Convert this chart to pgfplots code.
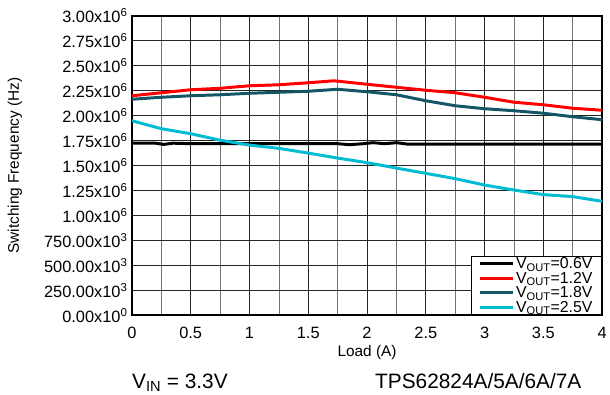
\documentclass[border=0pt]{standalone}
\usepackage{pgfplots}
\pgfplotsset{compat=1.18}
\usepackage{fontspec}
\setmainfont{Liberation Sans}
\definecolor{cRed}{RGB}{255,0,0}
\definecolor{cTeal}{RGB}{20,86,102}
\definecolor{cCyan}{RGB}{0,188,210}
\begin{document}
\begin{tikzpicture}
\begin{axis}[
  at={(0pt,0pt)}, anchor=south west,
  scale only axis, width=474pt, height=302pt,
  xmin=0, xmax=4, ymin=0, ymax=3,
  xtick={0,0.5,...,4}, minor x tick num=1,
  ytick={0,0.25,...,3},
  yticklabels={0.00x10\textsuperscript{0},250.00x10\textsuperscript{3},500.00x10\textsuperscript{3},750.00x10\textsuperscript{3},1.00x10\textsuperscript{6},1.25x10\textsuperscript{6},1.50x10\textsuperscript{6},1.75x10\textsuperscript{6},2.00x10\textsuperscript{6},2.25x10\textsuperscript{6},2.50x10\textsuperscript{6},2.75x10\textsuperscript{6},3.00x10\textsuperscript{6}},
  /pgf/number format/assume math mode=true,
  ticklabel style={font=\fontsize{16.5}{18}\selectfont},
  xticklabel style={yshift=-8pt},
  yticklabel style={xshift=-1pt},
  major tick length=0pt, minor tick length=0pt,
  grid=both,
  major grid style={black!85, line width=0.7pt},
  minor grid style={black!55, line width=0.7pt},
  axis line style={line width=2pt},
  xlabel={Load (A)},
  ylabel={Switching Frequency (Hz)},
  label style={font=\fontsize{15.5}{17}\selectfont},
  xlabel style={at={(axis description cs:0.5,-0.125)}, anchor=center},
  ylabel style={at={(axis description cs:-0.249,0.5)}, anchor=center},
  legend style={at={(axis description cs:1,0)}, anchor=south east, draw=black, line width=1.5pt,
    font=\fontsize{16}{16}\selectfont, row sep=0pt, inner xsep=7pt, inner ysep=0pt, fill=white,
    nodes={inner ysep=1pt}},
  legend cell align=left,
  legend image code/.code={\draw[#1, line width=3pt] (0pt,0pt) -- (33pt,0pt);},
]
\addplot[black, line width=3pt] coordinates {(0,1.725) (0.2,1.725) (0.27,1.713) (0.35,1.725) (0.5,1.72) (1,1.72) (1.5,1.72) (1.75,1.72) (1.85,1.71) (1.97,1.72) (2.05,1.73) (2.15,1.72) (2.25,1.73) (2.35,1.715) (2.5,1.715) (3,1.715) (4,1.715)};
\addlegendentry{V\textsubscript{OUT}=0.6V}
\addplot[cRed, line width=3pt] coordinates {(0,2.20) (0.25,2.23) (0.5,2.26) (0.75,2.275) (1.0,2.30) (1.25,2.31) (1.5,2.33) (1.72,2.35) (2.0,2.315) (2.25,2.285) (2.5,2.255) (2.75,2.23) (3.0,2.185) (3.25,2.135) (3.5,2.11) (3.75,2.075) (4.0,2.055)};
\addlegendentry{V\textsubscript{OUT}=1.2V}
\addplot[cTeal, line width=3pt] coordinates {(0,2.165) (0.25,2.185) (0.5,2.20) (0.75,2.21) (1.0,2.225) (1.25,2.235) (1.5,2.245) (1.75,2.265) (2.0,2.24) (2.25,2.21) (2.5,2.15) (2.75,2.10) (3.0,2.07) (3.25,2.05) (3.5,2.025) (3.75,1.99) (4.0,1.96)};
\addlegendentry{V\textsubscript{OUT}=1.8V}
\addplot[cCyan, line width=3pt] coordinates {(0,1.95) (0.25,1.87) (0.5,1.82) (0.75,1.755) (1.0,1.706) (1.25,1.673) (1.5,1.626) (1.75,1.576) (2.0,1.53) (2.25,1.476) (2.5,1.423) (2.75,1.37) (3.0,1.306) (3.25,1.256) (3.5,1.21) (3.75,1.19) (4.0,1.143)};
\addlegendentry{V\textsubscript{OUT}=2.5V}
\end{axis}
\node[anchor=base west, font=\fontsize{21}{24}\selectfont, inner sep=0pt] at (0pt,-74pt) {V\textsubscript{IN} = 3.3V};
\node[anchor=base west, font=\fontsize{21}{24}\selectfont, inner sep=0pt] at (245pt,-74pt) {TPS62824A/5A/6A/7A};
\path[use as bounding box] (-133pt,-80pt) rectangle (477pt,318pt);
\end{tikzpicture}
\end{document}
